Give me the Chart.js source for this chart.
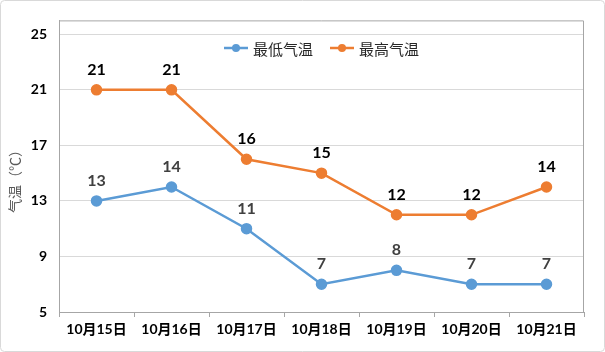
<!DOCTYPE html>
<html>
<head>
<meta charset="utf-8">
<script src="https://cdn.jsdelivr.net/npm/chart.js@4"></script>
<style>
  body { margin: 0; background: #fff; }
  canvas { display: block; }
</style>
</head>
<body>
<canvas id="tempChart" width="605" height="352"></canvas>
<script>
const days = ["10月15日", "10月16日", "10月17日", "10月18日", "10月19日", "10月20日", "10月21日"];
const lowTemps = [13, 14, 11, 7, 8, 7, 7];
const highTemps = [21, 21, 16, 15, 12, 12, 14];
const yTicks = [5, 9, 13, 17, 21, 25];
const yTitle = "气温（℃）";

const latin = "Lato, 'Noto Sans CJK SC', sans-serif";
const cjk = "'Noto Sans CJK SC', sans-serif";

// frame, title, legend and point labels
const decorations = {
  id: "decorations",
  beforeDraw: (chart) => {
    const { ctx } = chart;
    ctx.save();
    ctx.strokeStyle = "#d9d9d9";
    ctx.lineWidth = 1;
    ctx.beginPath();
    ctx.roundRect(0.5, 0.5, chart.width - 1, chart.height - 1, 4);
    ctx.stroke();
    ctx.restore();
  },
  afterDraw: (chart) => {
    const { ctx, chartArea } = chart;
    ctx.save();
    // plot box top/right
    ctx.strokeStyle = "#a6a6a6";
    ctx.lineWidth = 1;
    ctx.beginPath();
    ctx.moveTo(chartArea.left, chartArea.top + 0.5);
    ctx.lineTo(chartArea.right - 0.5, chartArea.top + 0.5);
    ctx.lineTo(chartArea.right - 0.5, chartArea.bottom);
    ctx.stroke();

    // y title
    ctx.save();
    ctx.translate(15, 178);
    ctx.rotate(-Math.PI / 2);
    ctx.fillStyle = "#595959";
    ctx.font = "14px " + cjk;
    ctx.textAlign = "center";
    ctx.textBaseline = "middle";
    ctx.fillText(yTitle, 0, 0);
    ctx.restore();

    // legend
    ctx.font = "15px " + cjk;
    ctx.textBaseline = "middle";
    const items = chart.data.datasets.map(ds => ({
      text: ds.label, color: ds.borderColor, w: 24 + 5 + ctx.measureText(ds.label).width
    }));
    const gap = 17;
    const total = items.reduce((s, it) => s + it.w, 0) + gap * (items.length - 1);
    let x = (chartArea.left + chartArea.right) / 2 - total / 2;
    const ly = 48;
    items.forEach(it => {
      ctx.strokeStyle = it.color;
      ctx.lineWidth = 2.5;
      ctx.beginPath();
      ctx.moveTo(x, ly);
      ctx.lineTo(x + 24, ly);
      ctx.stroke();
      ctx.fillStyle = it.color;
      ctx.beginPath();
      ctx.arc(x + 12, ly, 4, 0, Math.PI * 2);
      ctx.fill();
      ctx.fillStyle = "#262626";
      ctx.textAlign = "left";
      ctx.fillText(it.text, x + 29, ly + 1);
      x += it.w + gap;
    });

    // value labels
    ctx.textAlign = "center";
    ctx.textBaseline = "middle";
    chart.data.datasets.forEach((ds, i) => {
      const meta = chart.getDatasetMeta(i);
      ctx.fillStyle = i === 0 ? "#404040" : "#000000";
      ctx.font = "bold 16px " + latin;
      meta.data.forEach((pt, j) => {
        ctx.fillText(ds.data[j], pt.x, pt.y - 20);
      });
    });
    ctx.restore();
  }
};

new Chart(document.getElementById("tempChart"), {
  type: "line",
  data: {
    labels: days,
    datasets: [
      {
        label: "最低气温",
        data: lowTemps,
        borderColor: "#5b9bd5",
        backgroundColor: "#5b9bd5",
        borderWidth: 2.5,
        pointRadius: 4.5,
        pointHoverRadius: 4.5,
        tension: 0
      },
      {
        label: "最高气温",
        data: highTemps,
        borderColor: "#ed7d31",
        backgroundColor: "#ed7d31",
        borderWidth: 2.5,
        pointRadius: 4.5,
        pointHoverRadius: 4.5,
        tension: 0
      }
    ]
  },
  options: {
    responsive: false,
    animation: false,
    layout: { padding: { top: 19, right: 21, bottom: 10, left: 0 } },
    plugins: {
      legend: { display: false },
      tooltip: { enabled: false }
    },
    scales: {
      x: {
        offset: true,
        grid: {
          offset: true,
          drawOnChartArea: false,
          drawTicks: true,
          tickLength: 5,
          color: "#a6a6a6"
        },
        border: { color: "#a6a6a6" },
        ticks: {
          color: "#000",
          padding: 4,
          maxRotation: 0,
          autoSkip: false,
          font: { family: latin, size: 14, weight: "bold" }
        },
        afterFit: (axis) => { axis.height = 30; }
      },
      y: {
        min: 5,
        max: 26,
        afterBuildTicks: (axis) => { axis.ticks = yTicks.map(v => ({ value: v })); },
        grid: { color: "#d9d9d9", drawTicks: false },
        border: { color: "#a6a6a6" },
        ticks: {
          color: "#000",
          padding: 12,
          font: { family: latin, size: 14, weight: "bold" }
        },
        afterFit: (axis) => { axis.width = 59; }
      }
    }
  },
  plugins: [decorations]
});
</script>
</body>
</html>
